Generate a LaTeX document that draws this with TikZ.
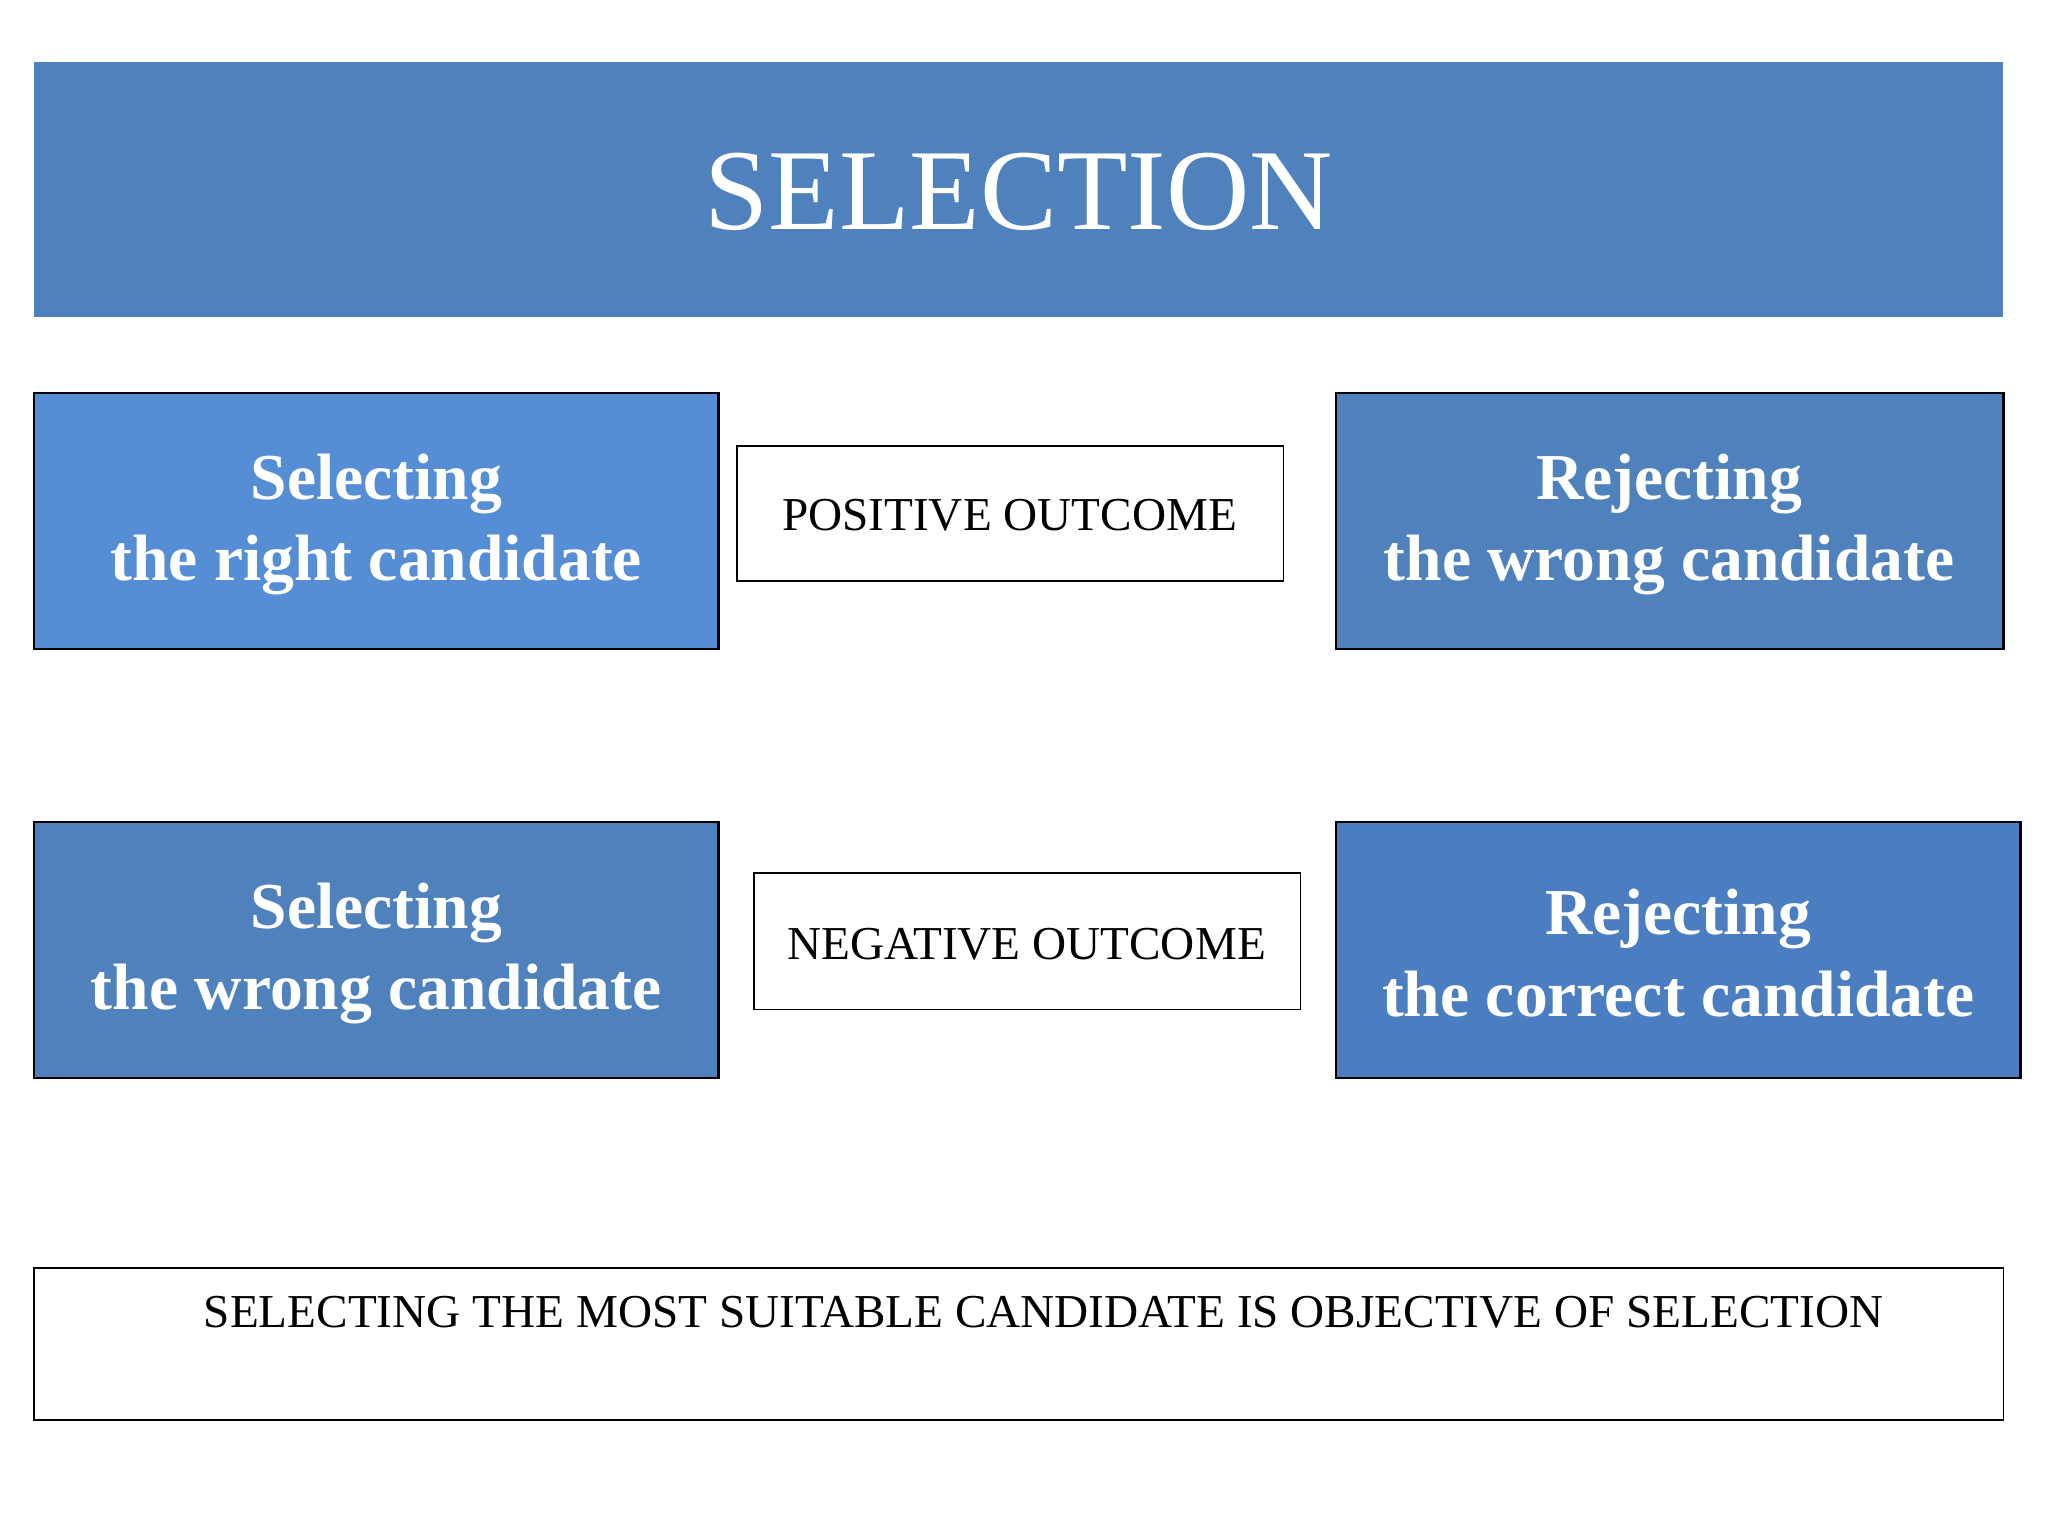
\documentclass[tikz,border=0pt]{standalone}
\usepackage{fontspec}
\setmainfont{Liberation Serif}
\begin{document}
\begin{tikzpicture}[x=0.5pt,y=-0.5pt,
  bluebox/.style={draw=black,line width=0.8pt,fill=blue1,text=white,font=\fontsize{25}{31}\selectfont\bfseries,align=center},
  wbox/.style={draw=black,line width=0.6pt,fill=white,font=\fontsize{18}{22}\selectfont}]
\definecolor{blue1}{HTML}{4F81BD}
\definecolor{blue2}{HTML}{558ED5}
\definecolor{blue3}{HTML}{4A7EC0}
\useasboundingbox (0,0) rectangle (1562,1171.5);
\fill[blue1] (26,47) rectangle (1528,242);
\node[text=white,font=\fontsize{44}{50}\selectfont] (title) at (777,146) {SELECTION};
\draw[bluebox,fill=blue2] (26,300) rectangle (548,495);
\node[text=white,font=\fontsize{25}{31}\selectfont\bfseries,align=center] (tl) at (287,400) {Selecting\\ the right candidate};
\draw[wbox] (562,340) rectangle (979,443);
\node[font=\fontsize{18}{22}\selectfont] (pos) at (770,393) {POSITIVE OUTCOME};
\draw[bluebox] (1019,300) rectangle (1528,495);
\node[text=white,font=\fontsize{25}{31}\selectfont\bfseries,align=center] (tr) at (1273,400) {Rejecting\\ the wrong candidate};
\draw[bluebox] (26,627) rectangle (548,822);
\node[text=white,font=\fontsize{25}{31}\selectfont\bfseries,align=center] (bl) at (287,727) {Selecting\\ the wrong candidate};
\draw[wbox] (575,666) rectangle (992,770);
\node[font=\fontsize{18}{22}\selectfont] (neg) at (783,720) {NEGATIVE OUTCOME};
\draw[bluebox,fill=blue3] (1019,627) rectangle (1541,822);
\node[text=white,font=\fontsize{25}{31}\selectfont\bfseries,align=center] (br) at (1280,727) {Rejecting\\ the correct candidate};
\draw[wbox] (26,967) rectangle (1528,1083);
\node[font=\fontsize{18}{22}\selectfont] (obj) at (796,1001) {SELECTING THE MOST SUITABLE CANDIDATE IS OBJECTIVE OF SELECTION};
\end{tikzpicture}
\end{document}
